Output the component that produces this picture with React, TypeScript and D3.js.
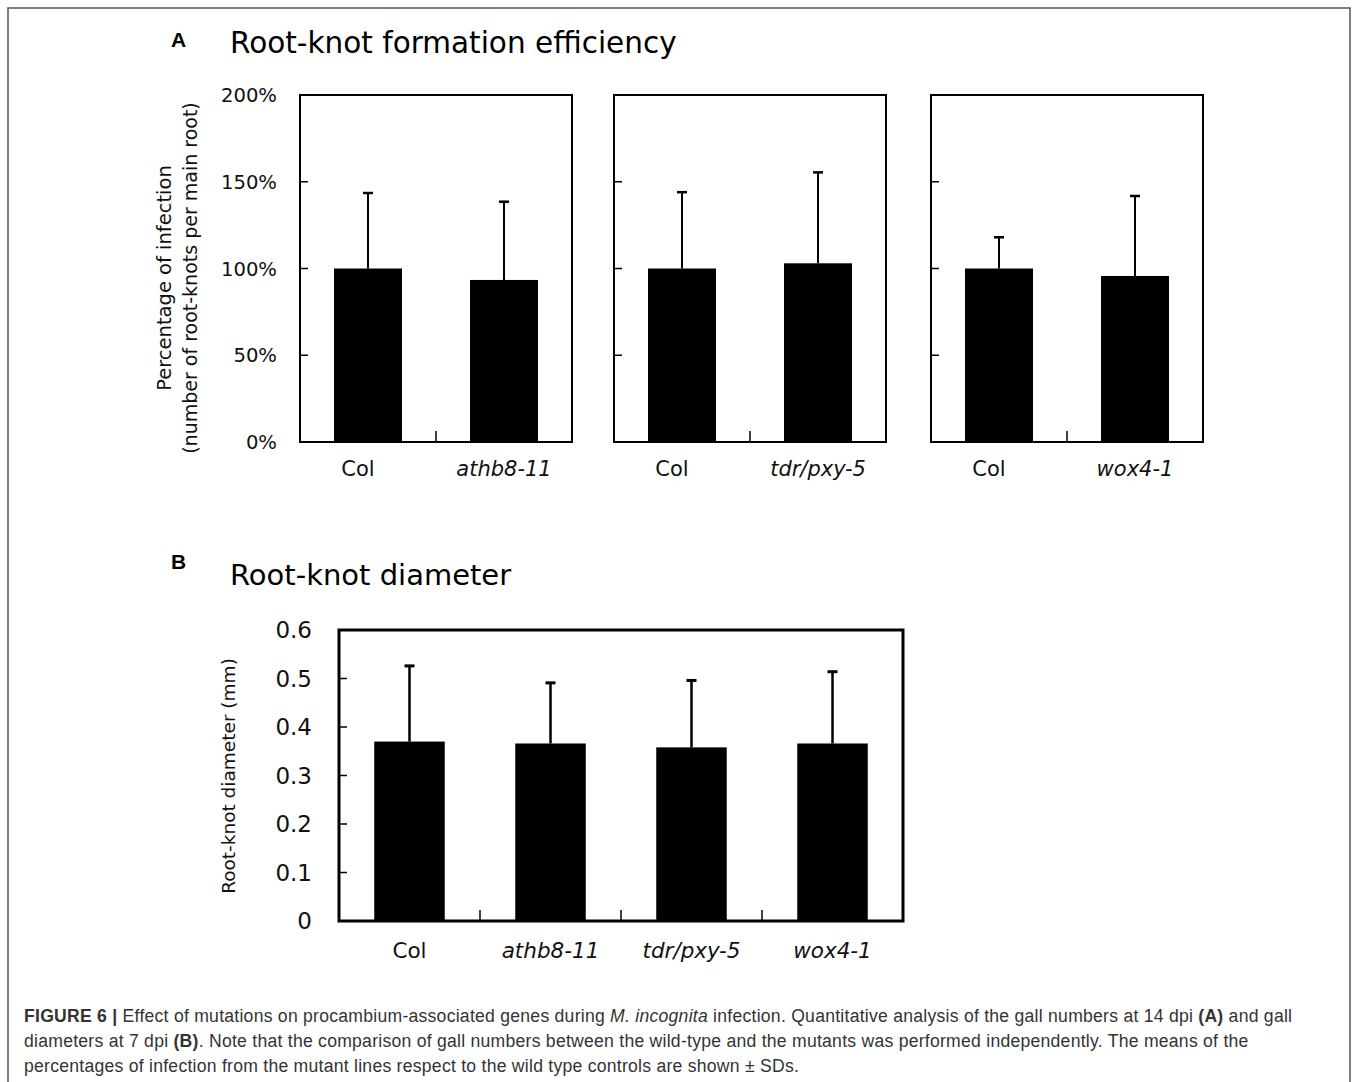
import React from "react";
import * as d3 from "d3";

// ---------- Data ----------
const groupA1Labels = ["Col", "athb8-11"];
const groupA1Means = [100, 93.4];
const groupA1SD = [43.5, 45.1];

const groupA2Labels = ["Col", "tdr/pxy-5"];
const groupA2Means = [100, 103];
const groupA2SD = [44, 52.4];

const groupA3Labels = ["Col", "wox4-1"];
const groupA3Means = [100, 95.7];
const groupA3SD = [18, 46.1];

const yTicksA = [0, 50, 100, 150, 200];

const diamLabels = ["Col", "athb8-11", "tdr/pxy-5", "wox4-1"];
const diamMeans = [0.37, 0.366, 0.358, 0.366];
const diamSD = [0.156, 0.125, 0.138, 0.148];
const yTicksB = [0, 0.1, 0.2, 0.3, 0.4, 0.5, 0.6];

const captionLines = [
  [
    { t: "FIGURE 6 | ", b: true },
    { t: "Effect of mutations on procambium-associated genes during " },
    { t: "M. incognita", i: true },
    { t: " infection. Quantitative analysis of the gall numbers at 14 dpi " },
    { t: "(A)", b: true },
    { t: " and gall" },
  ],
  [
    { t: "diameters at 7 dpi " },
    { t: "(B)", b: true },
    { t: ". Note that the comparison of gall numbers between the wild-type and the mutants was performed independently. The means of the" },
  ],
  [
    { t: "percentages of infection from the mutant lines respect to the wild type controls are shown \u00B1 SDs." },
  ],
];

const FONT = "DejaVu Sans, sans-serif";
const CAP_FONT = "Liberation Sans, Arial, sans-serif";

type Group = { labels: string[]; means: number[]; sd: number[] };

const groupsA: Group[] = [
  { labels: groupA1Labels, means: groupA1Means, sd: groupA1SD },
  { labels: groupA2Labels, means: groupA2Means, sd: groupA2SD },
  { labels: groupA3Labels, means: groupA3Means, sd: groupA3SD },
];

function BarPanel({
  g,
  x0,
  x1,
  yScale,
  ticks,
  frameW,
  errW,
  labelY,
  labelSize,
  colShift,
}: {
  g: Group;
  x0: number;
  x1: number;
  yScale: d3.ScaleLinear<number, number>;
  ticks: number[];
  frameW: number;
  errW: number;
  labelY: number;
  labelSize: number;
  colShift: number;
}) {
  const idx = g.labels.map((_, i) => String(i));
  const x = d3
    .scaleBand<string>()
    .domain(idx)
    .range([x0, x1])
    .paddingInner(0.5)
    .paddingOuter(0.25);
  const step = x.step();
  const bw = x.bandwidth();
  const [yBottom, yTop] = yScale.range();
  return (
    <g>
      {g.means.map((m, i) => {
        const bx = x(String(i))!;
        const cx = bx + bw / 2;
        const top = yScale(m);
        const et = yScale(m + g.sd[i]);
        return (
          <g key={i}>
            <rect x={bx} y={top} width={bw} height={yBottom - top} fill="#000" />
            <line x1={cx} x2={cx} y1={top} y2={et} stroke="#000" strokeWidth={errW} />
            <line x1={cx - 5} x2={cx + 5} y1={et} y2={et} stroke="#000" strokeWidth={errW + 0.5} />
          </g>
        );
      })}
      {ticks.map((t) => (
        <line
          key={t}
          x1={x0}
          x2={x0 + 8}
          y1={yScale(t)}
          y2={yScale(t)}
          stroke="#000"
          strokeWidth={1.5}
        />
      ))}
      {idx.slice(1).map((k) => {
        const bx = x(k)! - step * 0.25;
        return (
          <line key={k} x1={bx} x2={bx} y1={yBottom} y2={yBottom - 11} stroke="#000" strokeWidth={1.5} />
        );
      })}
      <rect
        x={x0}
        y={yTop}
        width={x1 - x0}
        height={yBottom - yTop}
        fill="none"
        stroke="#000"
        strokeWidth={frameW}
      />
      {g.labels.map((l, i) => {
        const cx = x(String(i))! + bw / 2;
        const isCol = l === "Col";
        return (
          <text
            key={i}
            x={cx + (isCol ? colShift : 0)}
            y={labelY}
            textAnchor="middle"
            fontFamily={FONT}
            fontSize={labelSize}
            fontStyle={isCol ? "normal" : "italic"}
            fill="#111"
          >
            {l}
          </text>
        );
      })}
    </g>
  );
}

export default function App() {
  const yA = d3.scaleLinear().domain([0, 200]).range([442, 95]);
  const yB = d3.scaleLinear().domain([0, 0.6]).range([921, 630]);
  const panelXA: [number, number][] = [
    [300, 572],
    [614, 886],
    [931, 1203],
  ];
  const fmtPct = (v: number) => `${v}%`;
  const fmtB = (v: number) => (v === 0 ? "0" : d3.format(".1f")(v));

  return (
    <svg
      width={1357}
      height={1082}
      style={{ position: "absolute", left: 0, top: 0, background: "#fff" }}
    >
      <rect x={0} y={0} width={1357} height={1082} fill="#fff" />
      <rect x={8} y={8} width={1342} height={1100} fill="none" stroke="#555" strokeWidth={1.5} />

      {/* Panel A */}
      <text x={171} y={47} fontFamily={CAP_FONT} fontWeight="bold" fontSize={21} fill="#000">
        A
      </text>
      <text x={230} y={53} fontFamily={FONT} fontSize={29.5} fill="#000">
        Root-knot formation efficiency
      </text>
      {yTicksA.map((t) => (
        <text
          key={t}
          x={277}
          y={yA(t)}
          dy="0.36em"
          textAnchor="end"
          fontFamily={FONT}
          fontSize={19.6}
          fill="#111"
        >
          {fmtPct(t)}
        </text>
      ))}
      <g transform={`translate(171,278) rotate(-90)`}>
        <text x={0} y={0} textAnchor="middle" fontFamily={FONT} fontSize={19.5} fill="#111">
          Percentage of infection
        </text>
      </g>
      <g transform={`translate(197,278) rotate(-90)`}>
        <text x={0} y={0} textAnchor="middle" fontFamily={FONT} fontSize={19} fill="#111">
          (number of root-knots per main root)
        </text>
      </g>
      {groupsA.map((g, i) => (
        <BarPanel
          key={i}
          g={g}
          x0={panelXA[i][0]}
          x1={panelXA[i][1]}
          yScale={yA}
          ticks={yTicksA}
          frameW={2}
          errW={2}
          labelY={476}
          labelSize={21}
          colShift={-10}
        />
      ))}

      {/* Panel B */}
      <text x={171} y={569} fontFamily={CAP_FONT} fontWeight="bold" fontSize={21} fill="#000">
        B
      </text>
      <text x={230} y={585} fontFamily={FONT} fontSize={29} fill="#000">
        Root-knot diameter
      </text>
      {yTicksB.map((t) => (
        <text
          key={t}
          x={312}
          y={yB(t)}
          dy="0.36em"
          textAnchor="end"
          fontFamily={FONT}
          fontSize={23}
          fill="#111"
        >
          {fmtB(t)}
        </text>
      ))}
      <g transform={`translate(235,776) rotate(-90)`}>
        <text x={0} y={0} textAnchor="middle" fontFamily={FONT} fontSize={18.5} fill="#111">
          Root-knot diameter (mm)
        </text>
      </g>
      <BarPanel
        g={{ labels: diamLabels, means: diamMeans, sd: diamSD }}
        x0={339}
        x1={903}
        yScale={yB}
        ticks={yTicksB}
        frameW={3}
        errW={2.5}
        labelY={958}
        labelSize={21.5}
        colShift={0}
      />

      {/* Caption */}
      {captionLines.map((line, li) => (
        <text
          key={li}
          x={24}
          y={1022 + li * 25}
          fontFamily={CAP_FONT}
          fontSize={17.6}
          letterSpacing={0.25}
          fill="#333"
        >
          {line.map((s: any, si) => (
            <tspan
              key={si}
              fontWeight={s.b ? "bold" : "normal"}
              fontStyle={s.i ? "italic" : "normal"}
            >
              {s.t}
            </tspan>
          ))}
        </text>
      ))}
    </svg>
  );
}
